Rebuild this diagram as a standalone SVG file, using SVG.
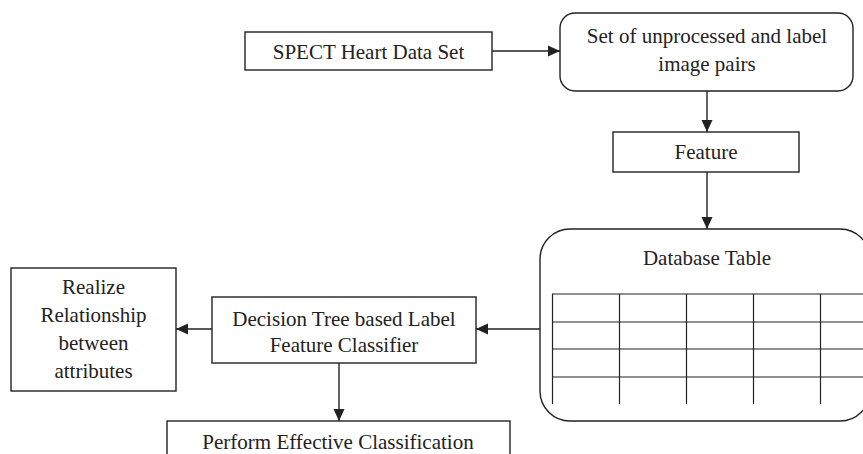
<svg xmlns="http://www.w3.org/2000/svg" width="863" height="454" viewBox="0 0 863 454">
<style>
.box{fill:#fff;stroke:#222;stroke-width:1.4}
.t{font-family:"Liberation Serif","Times New Roman",serif;font-size:21px;fill:#222;text-anchor:middle}
.c{stroke:#222;stroke-width:1.4;fill:none}
.g{stroke:#222;stroke-width:1.2;fill:none}
</style>
<defs>
<marker id="ah" viewBox="0 0 12 12" refX="12" refY="6" markerWidth="12" markerHeight="12" markerUnits="userSpaceOnUse" orient="auto">
<path d="M0,0.5 L12,6 L0,11.5 Z" fill="#222"/>
</marker>
</defs>
<rect width="863" height="454" fill="#fff"/>
<g id="connectors">
<line class="c" x1="492" y1="51" x2="560" y2="51" marker-end="url(#ah)"/>
<line class="c" x1="707" y1="91" x2="707" y2="132" marker-end="url(#ah)"/>
<line class="c" x1="707" y1="172" x2="707" y2="229" marker-end="url(#ah)"/>
<line class="c" x1="540" y1="329" x2="476" y2="329" marker-end="url(#ah)"/>
<line class="c" x1="212" y1="329" x2="176" y2="329" marker-end="url(#ah)"/>
<line class="c" x1="339" y1="363" x2="339" y2="421" marker-end="url(#ah)"/>
</g>
<g id="spect">
<rect class="box" x="245" y="32" width="247" height="38"/>
<text class="t" x="368.5" y="59">SPECT Heart Data Set</text>
</g>
<g id="pairs">
<rect class="box" x="560" y="13" width="293" height="78" rx="15"/>
<text class="t" x="707" y="43">Set of unprocessed and label</text>
<text class="t" x="707" y="71">image pairs</text>
</g>
<g id="feature">
<rect class="box" x="613" y="132" width="186" height="40"/>
<text class="t" x="706" y="159">Feature</text>
</g>
<g id="database">
<rect class="box" x="540" y="229" width="330" height="192" rx="30"/>
<text class="t" x="707" y="265">Database Table</text>
<line class="g" x1="552" y1="294" x2="863" y2="294"/>
<line class="g" x1="552" y1="322" x2="863" y2="322"/>
<line class="g" x1="552" y1="349" x2="863" y2="349"/>
<line class="g" x1="552" y1="377" x2="863" y2="377"/>
<line class="g" x1="552.5" y1="294" x2="552.5" y2="404"/>
<line class="g" x1="619.5" y1="294" x2="619.5" y2="404"/>
<line class="g" x1="686.5" y1="294" x2="686.5" y2="404"/>
<line class="g" x1="753.5" y1="294" x2="753.5" y2="404"/>
<line class="g" x1="820.5" y1="294" x2="820.5" y2="404"/>
</g>
<g id="classifier">
<rect class="box" x="212" y="297" width="264" height="66"/>
<text class="t" x="344" y="326">Decision Tree based Label</text>
<text class="t" x="344" y="352">Feature Classifier</text>
</g>
<g id="realize">
<rect class="box" x="11" y="268" width="165" height="123"/>
<text class="t" x="93.5" y="294">Realize</text>
<text class="t" x="93.5" y="322">Relationship</text>
<text class="t" x="93.5" y="350">between</text>
<text class="t" x="93.5" y="378">attributes</text>
</g>
<g id="perform">
<rect class="box" x="167" y="421" width="343" height="45"/>
<text class="t" x="338" y="449">Perform Effective Classification</text>
</g>
</svg>
